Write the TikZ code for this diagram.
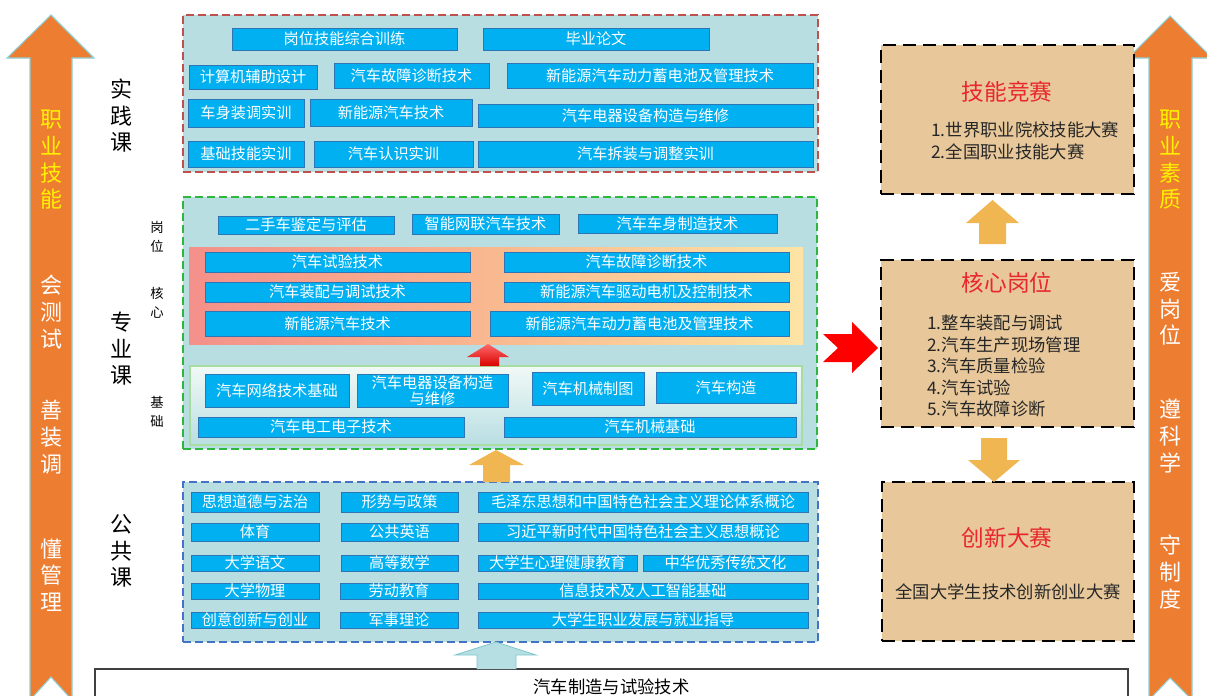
\documentclass[tikz,border=0pt]{standalone}
\usepackage{fontspec}
\setmainfont{Noto Sans CJK SC}
\usetikzlibrary{positioning}
\definecolor{skyfill}{HTML}{00B0F0}
\definecolor{skyline}{HTML}{2E75B6}
\definecolor{panelfill}{HTML}{B9DEE2}
\definecolor{basetop}{HTML}{F1F9F6}
\definecolor{basegreen}{HTML}{A8DCA0}
\definecolor{pracred}{HTML}{C0504D}
\definecolor{profgreen}{HTML}{2DB83D}
\definecolor{pubblue}{HTML}{4472C4}
\definecolor{arroworange}{HTML}{ED7D31}
\definecolor{arrowedge}{HTML}{8FCFD6}
\definecolor{tanfill}{HTML}{E8C89A}
\definecolor{goldarrow}{HTML}{F0B652}
\definecolor{coreleft}{HTML}{F4908A}
\definecolor{coremid}{HTML}{F9B98F}
\definecolor{coreright}{HTML}{FDE4A4}
\definecolor{titlered}{HTML}{E8262B}
\definecolor{tealarrow}{HTML}{B5DFE3}
\definecolor{tealedge}{HTML}{7DC6CC}
\tikzset{
  sz/.style 2 args={minimum width=#1*0.75pt, minimum height=#2*0.75pt},
  course/.style={rectangle, draw=skyline, line width=0.6pt, fill=skyfill,
                 text=white, inner sep=0pt, align=center,
                 font=\fontsize{11.4}{12.4}\selectfont},
  panel/.style={rectangle, fill=panelfill, line width=1.1pt,
                dash pattern=on 6pt off 3pt, inner sep=0pt},
  venue/.style={rectangle, fill=tanfill, draw=black, line width=2.2pt,
                dash pattern=on 10pt off 5pt, inner sep=0pt},
  venuetitle/.style={text=titlered, inner sep=0pt, font=\fontsize{17}{20}\selectfont},
  venuelist/.style={align=left, inner sep=0pt, text=black!85},
  bigarrow/.style={fill=arroworange, draw=arrowedge, line width=0.8pt},
  arrowtext/.style={align=center, inner sep=0pt, font=\fontsize{16.5}{20}\selectfont},
  kind/.style={align=center, inner sep=0pt, font=\fontsize{16.5}{19.9}\selectfont},
  subkind/.style={align=center, inner sep=0pt, font=\fontsize{10}{14.6}\selectfont},
}
\begin{document}
\begin{tikzpicture}[x=0.75pt, y=-0.75pt]
  \useasboundingbox (0,0) rectangle (1207,696);
  \clip (0,0) rectangle (1207,696);

  % side arrows
  \draw[bigarrow] (30,700) -- (30,58) -- (7,58) -- (51,15) -- (94,58) -- (72,58)
    -- (72,700) -- (51,677) -- cycle;
  \draw[bigarrow] (1149,700) -- (1149,58) -- (1128,58) -- (1170,16) -- (1212,58)
    -- (1192,58) -- (1192,700) -- (1170,678) -- cycle;
  \node[arrowtext, text=yellow] (lskill) at (51,160) {职\\业\\技\\能};
  \node[arrowtext, text=white] (ltest) at (51,312) {会\\测\\试};
  \node[arrowtext, text=white] (lfit) at (51,437) {善\\装\\调};
  \node[arrowtext, text=white] (lmgmt) at (51,575) {懂\\管\\理};
  \node[arrowtext, text=yellow] (rquality) at (1170,160) {职\\业\\素\\质};
  \node[arrowtext, text=white] (rlove) at (1170,309) {爱\\岗\\位};
  \node[arrowtext, text=white] (rsci) at (1170,436) {遵\\科\\学};
  \node[arrowtext, text=white] (rrule) at (1170,572) {守\\制\\度};

  % course kinds
  \node[kind] (kprac) at (121,116) {实\\践\\课};
  \node[kind] (kprof) at (121,349) {专\\业\\课};
  \node[kind] (kpub)  at (121,551) {公\\共\\课};
  \node[subkind] (kjob)  at (157,237) {岗\\位};
  \node[subkind] (kcore) at (157,303) {核\\心};
  \node[subkind] (kbase) at (157,412) {基\\础};

  % practice courses
  \node[panel, draw=pracred, sz={635}{157}] (prac) at (500.5,93.5) {};
  \node[course, sz={225}{22}] (pr1a) at (344.5,39) {岗位技能综合训练};
  \node[course, sz={226}{22}] (pr1b) at (596,39) {毕业论文};
  \node[course, sz={128}{24}] (pr2a) at (253,77) {计算机辅助设计};
  \node[course, sz={155}{25}] (pr2b) at (411.5,75.5) {汽车故障诊断技术};
  \node[course, sz={306}{25}] (pr2c) at (660,75.5) {新能源汽车动力蓄电池及管理技术};
  \node[course, sz={116}{28}] (pr3a) at (246,113) {车身装调实训};
  \node[course, sz={162}{27}] (pr3b) at (391,112.5) {新能源汽车技术};
  \node[course, sz={335}{23}] (pr3c) at (645.5,115.5) {汽车电器设备构造与维修};
  \node[course, sz={116}{26}] (pr4a) at (246,154) {基础技能实训};
  \node[course, sz={159}{26}] (pr4b) at (393.5,154) {汽车认识实训};
  \node[course, sz={335}{26}] (pr4c) at (645.5,154) {汽车拆装与调整实训};

  % professional courses
  \node[panel, draw=profgreen, sz={634}{252}] (prof) at (500,323) {};
  \node[course, sz={176}{18}] (jb1a) at (306,225) {二手车鉴定与评估};
  \node[course, sz={147}{20}] (jb1b) at (485.5,224) {智能网联汽车技术};
  \node[course, sz={199}{19}] (jb1c) at (677.5,223.5) {汽车车身制造技术};
  \node[rectangle, inner sep=0pt, left color=coreleft, right color=coreright,
        middle color=coremid, sz={614}{97}] (core) at (496,295.5) {};
  \node[course, sz={265}{20}] (hx1a) at (337.5,262) {汽车试验技术};
  \node[course, sz={285}{20}] (hx1b) at (646.5,262) {汽车故障诊断技术};
  \node[course, sz={265}{20}] (hx2a) at (337.5,292) {汽车装配与调试技术};
  \node[course, sz={285}{20}] (hx2b) at (646.5,292) {新能源汽车驱动电机及控制技术};
  \node[course, sz={265}{25}] (hx3a) at (337.5,323.5) {新能源汽车技术};
  \node[course, sz={299}{25}] (hx3b) at (639.5,323.5) {新能源汽车动力蓄电池及管理技术};
  \node[rectangle, inner sep=0pt, draw=basegreen, line width=0.8pt,
        top color=basetop, bottom color=panelfill, sz={612}{79}] (base) at (496,405.5) {};
  \node[course, sz={144}{33}] (jc1a) at (277,390.5) {汽车网络技术基础};
  \node[course, sz={151}{33}] (jc1b) at (432.5,390.5) {汽车电器设备构造\\与维修};
  \node[course, sz={112}{33}] (jc1c) at (588,388.5) {汽车机械制图};
  \node[course, sz={140}{31}] (jc1d) at (726,387.5) {汽车构造};
  \node[course, sz={266}{20}] (jc2a) at (331,427) {汽车电工电子技术};
  \node[course, sz={292}{20}] (jc2b) at (650,427) {汽车机械基础};

  % public courses
  \node[panel, draw=pubblue, sz={635}{160}] (pub) at (500.5,562) {};
  \node[course, sz={128}{20}] (gg1a) at (255,502) {思想道德与法治};
  \node[course, sz={117}{20}] (gg1b) at (399.5,502) {形势与政策};
  \node[course, sz={330}{20}] (gg1c) at (643,502) {毛泽东思想和中国特色社会主义理论体系概论};
  \node[course, sz={128}{18}] (gg2a) at (255,532) {体育};
  \node[course, sz={117}{18}] (gg2b) at (399.5,532) {公共英语};
  \node[course, sz={330}{18}] (gg2c) at (643,532) {习近平新时代中国特色社会主义思想概论};
  \node[course, sz={128}{16}] (gg3a) at (255,563) {大学语文};
  \node[course, sz={117}{16}] (gg3b) at (399.5,563) {高等数学};
  \node[course, sz={159}{16}] (gg3c) at (557.5,563) {大学生心理健康教育};
  \node[course, sz={165}{16}] (gg3d) at (725.5,563) {中华优秀传统文化};
  \node[course, sz={128}{16}] (gg4a) at (255,591) {大学物理};
  \node[course, sz={118}{16}] (gg4b) at (399,591) {劳动教育};
  \node[course, sz={330}{16}] (gg4c) at (643,591) {信息技术及人工智能基础};
  \node[course, sz={128}{16}] (gg5a) at (255,620) {创意创新与创业};
  \node[course, sz={118}{16}] (gg5b) at (399,620) {军事理论};
  \node[course, sz={330}{16}] (gg5c) at (643,620) {大学生职业发展与就业指导};

  % major
  \node[rectangle, draw=black!75, line width=0.8pt, fill=white, sz={1033}{36},
        font=\fontsize{13}{15}\selectfont] (major) at (611.5,687) {汽车制造与试验技术};

  % competitions and posts
  \node[venue, sz={253}{149}] (skill) at (1007.5,119.5) {};
  \node[venuetitle] (skillt) at (1007,92) {技能竞赛};
  \node[venuelist, anchor=west, font=\fontsize{13}{16.5}\selectfont] (skilll) at (931,141)
    {1.世界职业院校技能大赛\\2.全国职业技能大赛};
  \node[venue, sz={253}{167}] (post) at (1007.5,343.5) {};
  \node[venuetitle] (postt) at (1007,283) {核心岗位};
  \node[venuelist, anchor=west, font=\fontsize{13}{16.1}\selectfont] (postl) at (927,366)
    {1.整车装配与调试\\2.汽车生产现场管理\\3.汽车质量检验\\4.汽车试验\\5.汽车故障诊断};
  \node[venue, sz={252}{159}] (innov) at (1008,561.5) {};
  \node[venuetitle] (innovt) at (1007,538) {创新大赛};
  \node[venuelist, font=\fontsize{13}{15}\selectfont] (innovl) at (1008,592) {全国大学生技术创新创业大赛};

  % block arrows
  \draw[fill=tealarrow, draw=tealedge, line width=0.6pt] (477,669) -- (477,655) -- (455,655)
    -- (496,642) -- (536,655) -- (516,655) -- (516,669);
  \fill[goldarrow] (483,482) -- (483,465) -- (469,465) -- (496,450) -- (524,465)
    -- (510,465) -- (510,482) -- cycle;
  \path[top color=red!45!pink, bottom color=red!85!black] (480,366) -- (480,357)
    -- (467,357) -- (488,344) -- (509,357) -- (499,357) -- (499,366) -- cycle;
  \fill[red] (823,334) -- (852,334) -- (852,322) -- (878,348) -- (852,373)
    -- (852,362) -- (823,362) -- (838,348) -- cycle;
  \fill[goldarrow] (979,244) -- (979,223) -- (966,223) -- (992.5,200) -- (1019,223)
    -- (1006,223) -- (1006,244) -- cycle;
  \fill[goldarrow] (981,438) -- (981,460) -- (968,460) -- (994,482) -- (1020,460)
    -- (1007,460) -- (1007,438) -- cycle;
\end{tikzpicture}
\end{document}
